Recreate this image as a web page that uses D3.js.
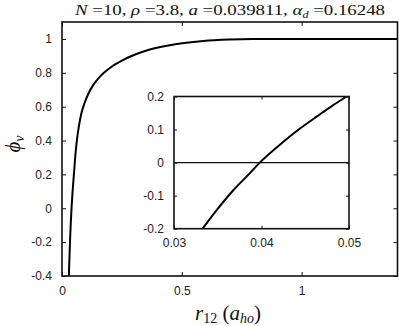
<!DOCTYPE html>
<html>
<head>
<meta charset="utf-8">
<script src="https://cdn.jsdelivr.net/npm/d3@7"></script>
<style>
  body { margin: 0; background: #fff; }
  svg { display: block; }
  .tick text { font-family: "Liberation Sans", Arial, sans-serif; font-size: 12px; fill: #222; }
  .serif { font-family: "Liberation Serif", "DejaVu Serif", serif; fill: #111; }
</style>
</head>
<body>
<div class="chart"></div>
<script>
  'use strict';

  // phi_nu vs r12 (inset values for the steep part)
  var r12 = [0.0285, 0.0334, 0.0349, 0.0368, 0.0387, 0.0398, 0.0425, 0.0444, 0.0463, 0.0482,
             0.0492, 0.055, 0.062, 0.070, 0.080, 0.095, 0.110, 0.130, 0.151, 0.175,
             0.207, 0.25, 0.29, 0.34, 0.39, 0.45, 0.51, 0.59, 0.70, 0.80, 1.0, 1.2, 1.4];
  var phi = [-0.4, -0.195, -0.143, -0.083, -0.031, 0.0, 0.063, 0.103, 0.139, 0.174,
             0.191, 0.30, 0.40, 0.48, 0.555, 0.625, 0.676, 0.727, 0.766, 0.80,
             0.836, 0.872, 0.899, 0.926, 0.946, 0.963, 0.976, 0.988, 0.996, 0.999, 1.0, 1.0, 1.0];

  var mainXTicks = [0, 0.5, 1];
  var mainYTicks = [-0.4, -0.2, 0, 0.2, 0.4, 0.6, 0.8, 1];
  var insetXTicks = [0.03, 0.04, 0.05];
  var insetYTicks = [-0.2, -0.1, 0, 0.1, 0.2];

  var data = r12.map(function(r, i) { return { r: r, p: phi[i] }; });

  var width = 399, height = 326;

  var svg = d3.select('.chart')
    .append('svg')
    .attr('width', width)
    .attr('height', height);

  // main panel box
  var main = { left: 62, right: 397.5, top: 22, bottom: 276 };
  var x = d3.scaleLinear().domain([0, 1.4]).range([main.left, main.right]);
  var y = d3.scaleLinear().domain([-0.4, 1.1]).range([main.bottom, main.top]);

  // inset box
  var ins = { left: 174, right: 349, top: 96.5, bottom: 228.7 };
  var xi = d3.scaleLinear().domain([0.03, 0.05]).range([ins.left, ins.right]);
  var yi = d3.scaleLinear().domain([-0.2, 0.2]).range([ins.bottom, ins.top]);

  var defs = svg.append('defs');
  defs.append('clipPath').attr('id', 'clipMain')
    .append('rect')
    .attr('x', main.left).attr('y', main.top)
    .attr('width', main.right - main.left).attr('height', main.bottom - main.top);
  defs.append('clipPath').attr('id', 'clipInset')
    .append('rect')
    .attr('x', ins.left).attr('y', ins.top)
    .attr('width', ins.right - ins.left).attr('height', ins.bottom - ins.top);

  // draws one boxed panel: ticks inward on all four sides
  function drawAxes(sx, sy, box, xt, yt, tickLen) {
    var g = svg.append('g');
    var fmt = function(d) { return String(d); };

    g.append('g')
      .attr('transform', 'translate(0,' + box.bottom + ')')
      .call(d3.axisBottom(sx).tickValues(xt).tickFormat(fmt).tickSizeInner(-tickLen).tickSizeOuter(0).tickPadding(10));
    g.append('g')
      .attr('transform', 'translate(0,' + box.top + ')')
      .call(d3.axisTop(sx).tickValues(xt).tickFormat('').tickSizeInner(-tickLen).tickSizeOuter(0));
    g.append('g')
      .attr('transform', 'translate(' + box.left + ',0)')
      .call(d3.axisLeft(sy).tickValues(yt).tickFormat(fmt).tickSizeInner(-tickLen).tickSizeOuter(0).tickPadding(10));
    g.append('g')
      .attr('transform', 'translate(' + box.right + ',0)')
      .call(d3.axisRight(sy).tickValues(yt).tickFormat('').tickSizeInner(-tickLen).tickSizeOuter(0));

    g.selectAll('.domain').remove();
    g.selectAll('.tick line').attr('stroke', '#111').attr('stroke-width', 1);

    g.append('rect')
      .attr('x', box.left).attr('y', box.top)
      .attr('width', box.right - box.left).attr('height', box.bottom - box.top)
      .attr('fill', 'none')
      .attr('stroke', '#111')
      .attr('stroke-width', 1.6);
    return g;
  }

  drawAxes(x, y, main, mainXTicks, mainYTicks, 4);

  var line = d3.line()
    .x(function(d) { return x(d.r); })
    .y(function(d) { return y(d.p); })
    .curve(d3.curveMonotoneX);

  svg.append('path')
    .datum(data)
    .attr('clip-path', 'url(#clipMain)')
    .attr('d', line)
    .attr('fill', 'none')
    .attr('stroke', '#000')
    .attr('stroke-width', 2);

  // inset: white background first, then zero line, curve, box
  svg.append('rect')
    .attr('x', ins.left).attr('y', ins.top)
    .attr('width', ins.right - ins.left).attr('height', ins.bottom - ins.top)
    .attr('fill', '#fff');

  svg.append('line')
    .attr('x1', ins.left).attr('x2', ins.right)
    .attr('y1', yi(0)).attr('y2', yi(0))
    .attr('stroke', '#111')
    .attr('stroke-width', 1.1);

  var lineInset = d3.line()
    .x(function(d) { return xi(d.r); })
    .y(function(d) { return yi(d.p); })
    .curve(d3.curveMonotoneX);

  svg.append('path')
    .datum(data.filter(function(d) { return d.r < 0.06; }))
    .attr('clip-path', 'url(#clipInset)')
    .attr('d', lineInset)
    .attr('fill', 'none')
    .attr('stroke', '#000')
    .attr('stroke-width', 2);

  drawAxes(xi, yi, ins, insetXTicks, insetYTicks, 3);

  // title
  var title = svg.append('text')
    .attr('class', 'serif')
    .attr('x', 75)
    .attr('y', 15)
    .attr('font-size', 15.5)
    .attr('textLength', 310)
    .attr('lengthAdjust', 'spacingAndGlyphs');
  title.append('tspan').attr('font-style', 'italic').text('N');
  title.append('tspan').text(' =10, ');
  title.append('tspan').attr('font-style', 'italic').text('ρ');
  title.append('tspan').text(' =3.8, ');
  title.append('tspan').attr('font-style', 'italic').text('a');
  title.append('tspan').text(' =0.039811, ');
  title.append('tspan').attr('font-style', 'italic').text('α');
  title.append('tspan').attr('font-style', 'italic').attr('font-size', 10).attr('dy', 3).text('d');
  title.append('tspan').attr('dy', -3).text(' =0.16248');

  // x label
  var xl = svg.append('text')
    .attr('class', 'serif')
    .attr('x', 228)
    .attr('y', 320)
    .attr('text-anchor', 'middle')
    .attr('font-size', 21);
  xl.append('tspan').attr('font-style', 'italic').text('r');
  xl.append('tspan').attr('font-size', 14).attr('dy', 3).text('12');
  xl.append('tspan').attr('dy', -3).text(' (');
  xl.append('tspan').attr('font-style', 'italic').text('a');
  xl.append('tspan').attr('font-style', 'italic').attr('font-size', 14).attr('dy', 3).text('ho');
  xl.append('tspan').attr('dy', -3).text(')');

  // y label
  var yl = svg.append('text')
    .attr('class', 'serif')
    .attr('transform', 'translate(20,144) rotate(-90)')
    .attr('text-anchor', 'middle')
    .attr('font-size', 21);
  yl.append('tspan').attr('font-style', 'italic').text('ϕ');
  yl.append('tspan').attr('font-style', 'italic').attr('font-size', 14).attr('dy', 4).text('ν');
</script>
</body>
</html>
